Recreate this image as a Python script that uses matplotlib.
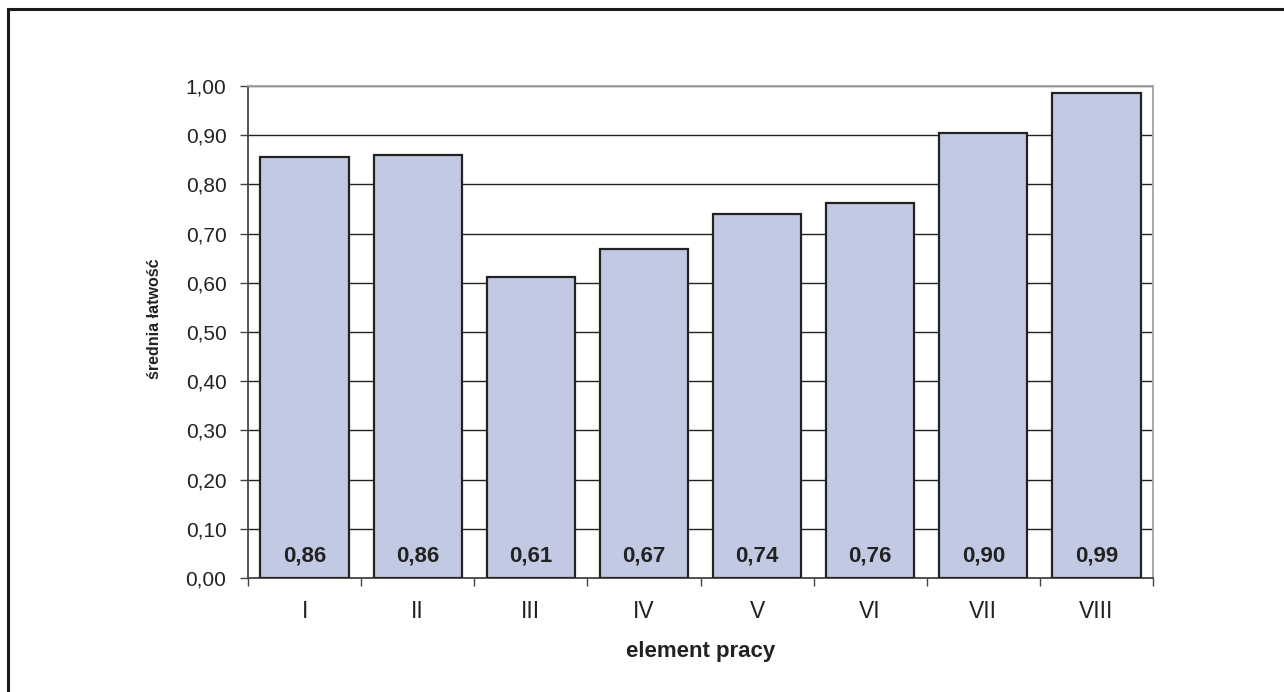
import matplotlib
matplotlib.use("Agg")
import matplotlib.pyplot as plt
from matplotlib.lines import Line2D
import numpy as np

# dane
categories = ["I", "II", "III", "IV", "V", "VI", "VII", "VIII"]
values = [0.856, 0.859, 0.612, 0.668, 0.739, 0.763, 0.904, 0.986]
yticks = [0.0, 0.1, 0.2, 0.3, 0.4, 0.5, 0.6, 0.7, 0.8, 0.9, 1.0]

plt.rcParams["font.family"] = ["Liberation Sans", "DejaVu Sans"]

W, H = 1284, 692
fig = plt.figure(figsize=(W / 100, H / 100), dpi=100)
ax = fig.add_axes([248 / W, 1 - 578 / H, (1153 - 248) / W, (578 - 86) / H])

x = np.arange(len(categories))
ax.bar(x, values, width=0.78, color="#C2C9E2", edgecolor="#222222", linewidth=1.6, zorder=3)

for xi, v in zip(x, values):
    ax.text(xi, 0.045, f"{v:.2f}".replace(".", ","), ha="center", va="center",
            fontsize=16, fontweight="bold", color="#222222", zorder=4)

ax.set_xlim(-0.5, len(categories) - 0.5)
ax.set_ylim(0, 1.0)
ax.set_yticks(yticks)
ax.set_yticklabels([f"{t:.2f}".replace(".", ",") for t in yticks], fontsize=15, color="#222222")
ax.yaxis.grid(True, color="#222222", linewidth=1.0, zorder=0)
ax.set_axisbelow(True)

# etykiety kategorii bez kresek, kreski na granicach
ax.set_xticks(x)
ax.set_xticklabels(categories, fontsize=16.5, color="#222222")
ax.tick_params(axis="x", which="major", length=0, pad=15.5)
ax.set_xticks(np.arange(len(categories) + 1) - 0.5, minor=True)
ax.tick_params(axis="x", which="minor", length=6, width=1.0, color="#444444", direction="out")
ax.tick_params(axis="y", length=6, width=1.0, color="#444444", pad=9.5)

ax.spines["left"].set_color("#4a4444")
ax.spines["bottom"].set_color("#4a4444")
ax.spines["top"].set_color("#a89f9f")
ax.spines["right"].set_color("#a89f9f")
for s in ax.spines.values():
    s.set_linewidth(1.3)

ax.set_ylabel("średnia łatwość", fontsize=11.5, fontweight="bold", color="#222222")
ax.yaxis.set_label_coords(-0.095, 0.526)
ax.set_xlabel("element pracy", fontsize=16, fontweight="bold", color="#222222")
ax.xaxis.set_label_coords(0.5, -0.128)

# ramka (tylko lewa i górna krawędź widoczna)
fig.add_artist(Line2D([7.5 / W, 7.5 / W], [0, 1 - 9 / H], transform=fig.transFigure,
                      color="#1a1a1a", linewidth=2.2, solid_capstyle="projecting"))
fig.add_artist(Line2D([7.5 / W, 1], [1 - 9 / H, 1 - 9 / H], transform=fig.transFigure,
                      color="#1a1a1a", linewidth=2.2, solid_capstyle="projecting"))

fig.savefig("out.png", dpi=100)
